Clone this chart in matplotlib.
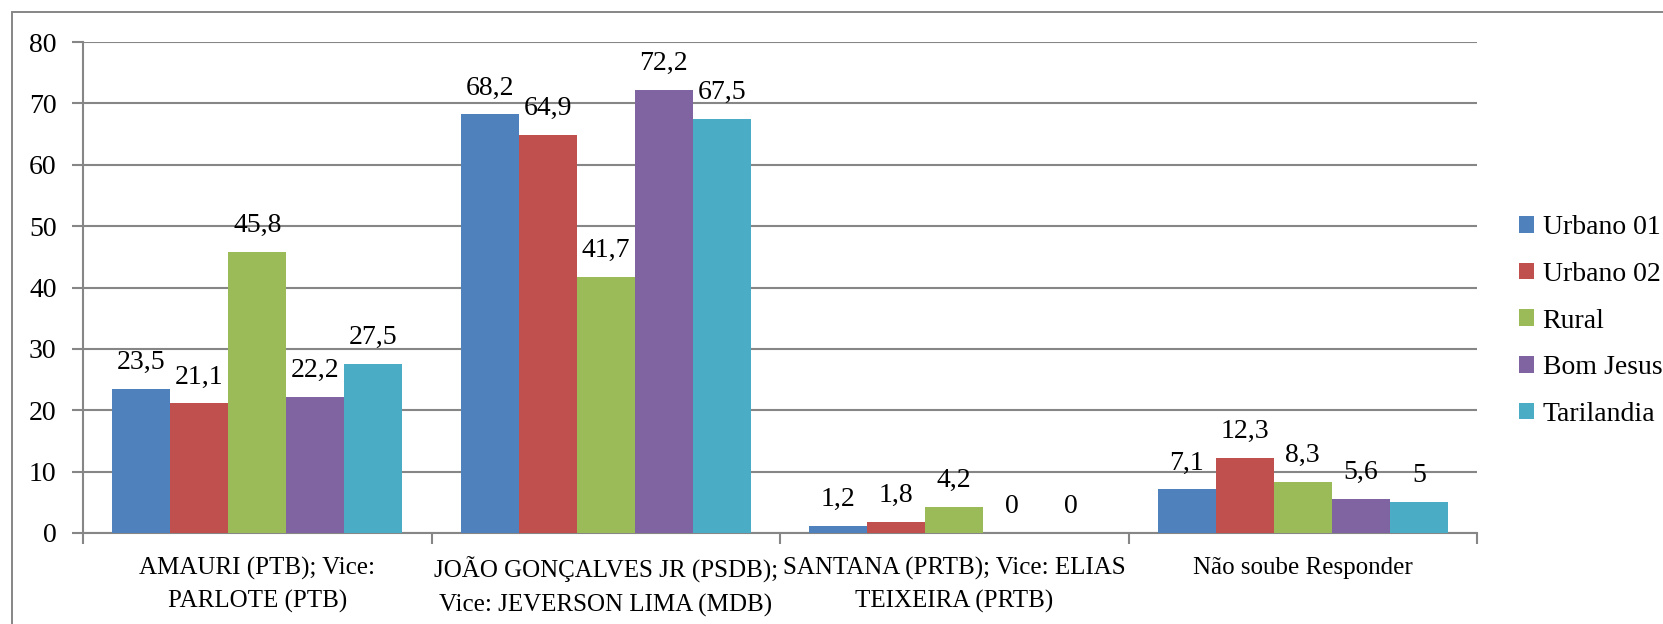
import numpy as np
import matplotlib.pyplot as plt
from matplotlib.patches import Rectangle

# ===== Data =====
categories = [
    "AMAURI (PTB); Vice:\nPARLOTE (PTB)",
    "JOÃO GONÇALVES JR (PSDB);\nVice: JEVERSON LIMA (MDB)",
    "SANTANA (PRTB); Vice: ELIAS\nTEIXEIRA (PRTB)",
    "Não soube Responder",
]
series_names = ["Urbano 01", "Urbano 02", "Rural", "Bom Jesus", "Tarilandia"]
urbano_01 = [23.5, 68.2, 1.2, 7.1]
urbano_02 = [21.1, 64.9, 1.8, 12.3]
rural = [45.8, 41.7, 4.2, 8.3]
bom_jesus = [22.2, 72.2, 0, 5.6]
tarilandia = [27.5, 67.5, 0, 5]
colors = ["#4F81BD", "#C0504D", "#9BBB59", "#8064A2", "#4BACC6"]

GRAY = "#868686"
FONT = "Liberation Serif"
FS = 20

plt.rcParams['font.family'] = [FONT, 'DejaVu Serif']

W, H = 1663, 624
fig = plt.figure(figsize=(W / 100, H / 100), dpi=100)
ax = fig.add_axes([83 / W, 1 - 533 / H, (1477 - 83) / W, (533 - 42) / H])

# outer chart border (runs off the right/bottom edge)
fig.patches.append(Rectangle((12 / W, -0.2), 2, 1.2 - 12 / H, transform=fig.transFigure,
                             fill=False, edgecolor=GRAY, lw=1.4))


def fmt(v):
    if float(v).is_integer():
        return str(int(v))
    return f"{v:.1f}".replace(".", ",")


x = np.arange(len(categories))
bw = 1 / 6
all_series = [urbano_01, urbano_02, rural, bom_jesus, tarilandia]
for i, (name, vals, c) in enumerate(zip(series_names, all_series, colors)):
    xs = x + (i - 2) * bw
    ax.bar(xs, vals, width=bw, color=c, label=name, zorder=3, edgecolor="none")
    for xi, v in zip(xs, vals):
        ax.annotate(fmt(v), (xi, v), xytext=(0, 19), textcoords="offset points",
                    ha="center", va="center", fontsize=FS, family=FONT)

ax.set_xlim(-0.5, len(categories) - 0.5)
ax.set_ylim(0, 80)
ax.set_yticks(np.arange(0, 81, 10))
ax.yaxis.grid(True, color=GRAY, lw=1.5, zorder=0)
ax.set_axisbelow(True)

ax.set_xticks(x)
ax.set_xticklabels(categories, fontsize=18, linespacing=1.6)
ax.set_xticks(np.arange(-0.5, len(categories), 1), minor=True)
ax.tick_params(axis="x", which="major", length=0, pad=17)
ax.tick_params(axis="x", which="minor", length=8, width=1.5, color=GRAY)
ax.tick_params(axis="y", length=8, width=1.5, color=GRAY, labelsize=FS, pad=11)

for s in ["top", "right"]:
    ax.spines[s].set_visible(False)
for s in ["left", "bottom"]:
    ax.spines[s].set_color(GRAY)
    ax.spines[s].set_linewidth(1.5)

fig.legend(loc="center left", bbox_to_anchor=(1519 / W, 1 - 321 / H),
           bbox_transform=fig.transFigure, frameon=False, fontsize=FS,
           handlelength=0.55, handleheight=0.55, handletextpad=0.3,
           labelspacing=0.78, borderpad=0, borderaxespad=0)

fig.savefig("out.png", dpi=100)
